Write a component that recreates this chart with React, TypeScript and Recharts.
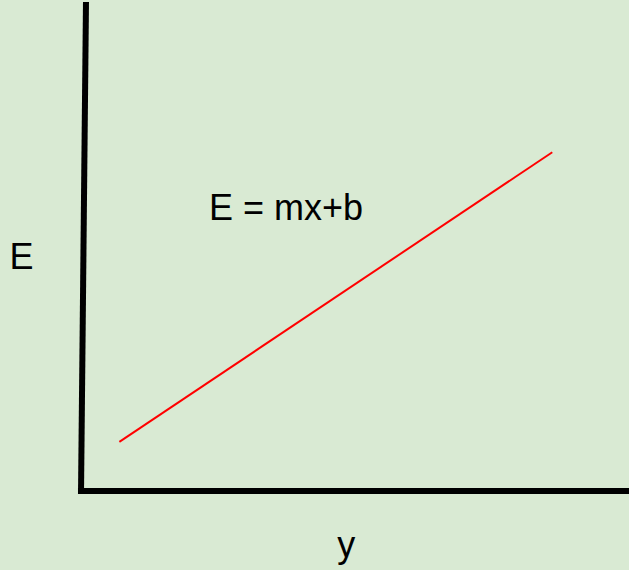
import React from 'react';
import { ComposedChart, Line, XAxis, YAxis, ReferenceLine, ReferenceDot } from 'recharts';

// E as a linear function of y (arbitrary units, axes run 0..10)
const xValues = [0.7, 8.6];
const eValues = [1.0, 6.9];

const equationText = 'E = mx+b';
const yAxisTitle = 'E';
const xAxisTitle = 'y';

const data = xValues.map((x, i) => ({ x, e: eValues[i] }));

const FONT = '"Liberation Sans", Arial, sans-serif';

const makeText = (txt: string) => (props: any) => {
  const vb = props.viewBox || {};
  return (
    <text x={vb.x} y={vb.y} textAnchor="middle" fontFamily={FONT} fontSize={36} fill="#000">
      {txt}
    </text>
  );
};

export default function App() {
  return (
    <div style={{ position: 'absolute', left: 0, top: 0, width: 629, height: 570, background: '#d9ead3' }}>
      <ComposedChart width={629} height={570} data={data} margin={{ top: 0, right: 0, left: 81, bottom: 79 }}>
        <XAxis type="number" dataKey="x" domain={[0, 10]} hide allowDataOverflow />
        <YAxis type="number" domain={[0, 10]} hide allowDataOverflow />
        <ReferenceLine
          segment={[{ x: -0.055, y: 0 }, { x: 10, y: 0 }]}
          stroke="#000"
          strokeWidth={6}
          ifOverflow="visible"
        />
        <ReferenceLine
          segment={[{ x: 0, y: -0.061 }, { x: 0.091, y: 9.96 }]}
          stroke="#000"
          strokeWidth={6}
          ifOverflow="visible"
        />
        <Line
          type="linear"
          dataKey="e"
          stroke="#ff0000"
          strokeWidth={2}
          dot={false}
          activeDot={false}
          isAnimationActive={false}
        />
        <ReferenceDot x={3.74} y={5.52} r={0} fill="none" stroke="none" ifOverflow="visible" label={makeText(equationText)} />
        <ReferenceDot x={-1.086} y={4.52} r={0} fill="none" stroke="none" ifOverflow="visible" label={makeText(yAxisTitle)} />
        <ReferenceDot x={4.84} y={-1.344} r={0} fill="none" stroke="none" ifOverflow="visible" label={makeText(xAxisTitle)} />
      </ComposedChart>
    </div>
  );
}
